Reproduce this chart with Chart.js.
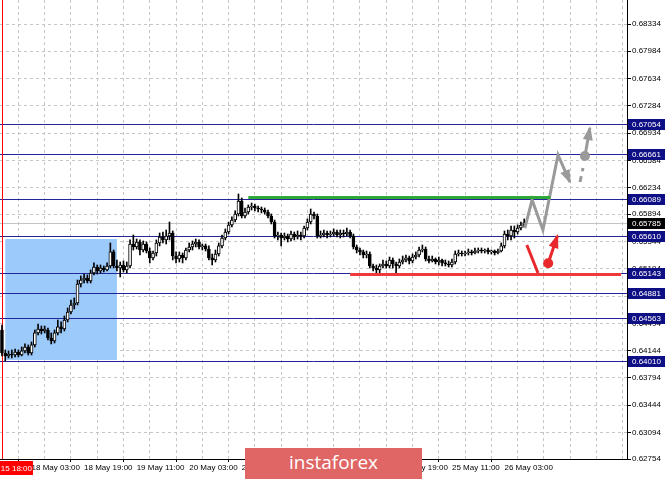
<!DOCTYPE html>
<html>
<head>
<meta charset="utf-8">
<script src="https://cdn.jsdelivr.net/npm/chart.js@4.4.1/dist/chart.umd.min.js"></script>
<style>
  body { margin: 0; background: #fff; }
  #wrap { position: relative; width: 665px; height: 479px; overflow: hidden; }
  #badge {
    position: absolute; left: 245px; top: 448px; width: 177px; height: 31px;
    background: #e06666; color: #fff; font: 19px 'Open Sans', sans-serif;
    text-align: center; line-height: 29px;
  }
</style>
</head>
<body>
<div id="wrap">
  <canvas id="chart" width="665" height="479"></canvas>
  <div id="badge">instaforex</div>
</div>
<script>
// H1 candles, 15 May 18:00 .. 26 May 09:00
const opens = [0.64409,0.64114,0.64076,0.64101,0.64088,0.64127,0.64088,0.64140,0.64191,0.64114,
  0.64217,0.64371,0.64422,0.64396,0.64409,0.64306,0.64268,0.64371,0.64448,0.64422,
  0.64537,0.64640,0.64730,0.64755,0.64999,0.65050,0.65076,0.65038,0.65140,0.65217,
  0.65166,0.65204,0.65179,0.65230,0.65410,0.65230,0.65204,0.65243,0.65179,0.65230,
  0.65512,0.65474,0.65538,0.65435,0.65512,0.65422,0.65333,0.65397,0.65525,0.65602,
  0.65564,0.65615,0.65653,0.65358,0.65320,0.65371,0.65333,0.65435,0.65474,0.65512,
  0.65538,0.65474,0.65487,0.65448,0.65333,0.65307,0.65384,0.65487,0.65589,0.65666,
  0.65756,0.65820,0.65897,0.66064,0.65871,0.65923,0.65987,0.66000,0.65974,0.65961,
  0.65948,0.65923,0.65871,0.65794,0.65615,0.65628,0.65589,0.65615,0.65576,0.65640,
  0.65602,0.65628,0.65615,0.65717,0.65794,0.65897,0.65871,0.65615,0.65628,0.65653,
  0.65628,0.65640,0.65666,0.65628,0.65653,0.65640,0.65666,0.65615,0.65474,0.65435,
  0.65410,0.65371,0.65384,0.65230,0.65204,0.65179,0.65230,0.65256,0.65230,0.65307,
  0.65256,0.65230,0.65281,0.65307,0.65333,0.65294,0.65345,0.65371,0.65435,0.65448,
  0.65320,0.65294,0.65320,0.65281,0.65307,0.65269,0.65256,0.65243,0.65281,0.65384,
  0.65397,0.65384,0.65397,0.65410,0.65397,0.65422,0.65435,0.65422,0.65435,0.65410,
  0.65422,0.65397,0.65422,0.65487,0.65640,0.65615,0.65692,0.65666,0.65717,0.65756];
const highs = [0.64473,0.64153,0.64140,0.64153,0.64165,0.64153,0.64191,0.64230,0.64217,0.64255,
  0.64409,0.64486,0.64460,0.64460,0.64435,0.64371,0.64409,0.64537,0.64512,0.64589,
  0.64691,0.64794,0.64820,0.65050,0.65102,0.65127,0.65115,0.65179,0.65269,0.65243,
  0.65243,0.65230,0.65269,0.65525,0.65435,0.65307,0.65281,0.65294,0.65281,0.65564,
  0.65628,0.65576,0.65564,0.65551,0.65538,0.65461,0.65422,0.65564,0.65653,0.65666,
  0.65692,0.65794,0.65679,0.65410,0.65410,0.65397,0.65461,0.65525,0.65551,0.65576,
  0.65564,0.65512,0.65512,0.65487,0.65384,0.65435,0.65525,0.65628,0.65705,0.65794,
  0.65859,0.65936,0.66154,0.66102,0.65974,0.66013,0.66038,0.66025,0.66000,0.65987,
  0.65974,0.65948,0.65897,0.65820,0.65666,0.65653,0.65653,0.65640,0.65679,0.65666,
  0.65679,0.65666,0.65743,0.65833,0.65961,0.65923,0.65897,0.65679,0.65692,0.65679,
  0.65679,0.65705,0.65692,0.65692,0.65692,0.65717,0.65692,0.65640,0.65499,0.65461,
  0.65435,0.65422,0.65410,0.65256,0.65243,0.65256,0.65307,0.65294,0.65345,0.65333,
  0.65281,0.65320,0.65358,0.65371,0.65358,0.65384,0.65410,0.65474,0.65499,0.65474,
  0.65358,0.65358,0.65333,0.65345,0.65320,0.65307,0.65294,0.65320,0.65422,0.65435,
  0.65422,0.65422,0.65448,0.65435,0.65461,0.65461,0.65461,0.65448,0.65461,0.65435,
  0.65435,0.65448,0.65525,0.65679,0.65692,0.65743,0.65743,0.65756,0.65794,0.65833];
const lows = [0.64076,0.64011,0.64050,0.64050,0.64063,0.64063,0.64076,0.64114,0.64088,0.64088,
  0.64191,0.64345,0.64358,0.64371,0.64281,0.64230,0.64242,0.64345,0.64371,0.64396,
  0.64512,0.64614,0.64679,0.64730,0.64961,0.65012,0.65012,0.65012,0.65115,0.65127,
  0.65140,0.65153,0.65166,0.65204,0.65204,0.65166,0.65089,0.65153,0.65140,0.65204,
  0.65435,0.65448,0.65371,0.65410,0.65397,0.65269,0.65307,0.65358,0.65487,0.65525,
  0.65512,0.65564,0.65307,0.65269,0.65281,0.65269,0.65307,0.65410,0.65435,0.65474,
  0.65448,0.65435,0.65422,0.65307,0.65243,0.65281,0.65358,0.65461,0.65564,0.65640,
  0.65730,0.65794,0.65871,0.65846,0.65846,0.65897,0.65948,0.65936,0.65923,0.65910,
  0.65897,0.65846,0.65769,0.65589,0.65564,0.65487,0.65564,0.65538,0.65551,0.65564,
  0.65576,0.65564,0.65589,0.65692,0.65769,0.65833,0.65589,0.65589,0.65602,0.65589,
  0.65602,0.65615,0.65602,0.65589,0.65602,0.65615,0.65589,0.65448,0.65397,0.65371,
  0.65333,0.65333,0.65204,0.65166,0.65140,0.65140,0.65204,0.65204,0.65204,0.65204,
  0.65140,0.65204,0.65256,0.65281,0.65256,0.65269,0.65320,0.65345,0.65410,0.65294,
  0.65269,0.65281,0.65256,0.65243,0.65230,0.65230,0.65217,0.65217,0.65256,0.65358,
  0.65358,0.65358,0.65371,0.65371,0.65384,0.65397,0.65397,0.65397,0.65384,0.65384,
  0.65371,0.65384,0.65410,0.65461,0.65564,0.65564,0.65589,0.65640,0.65692,0.65730];
const closes = [0.64114,0.64076,0.64101,0.64088,0.64127,0.64088,0.64140,0.64191,0.64114,0.64217,
  0.64371,0.64422,0.64396,0.64422,0.64306,0.64268,0.64371,0.64448,0.64422,0.64537,
  0.64640,0.64730,0.64755,0.64999,0.65050,0.65076,0.65038,0.65140,0.65217,0.65166,
  0.65204,0.65179,0.65230,0.65410,0.65230,0.65204,0.65243,0.65179,0.65230,0.65512,
  0.65474,0.65538,0.65435,0.65512,0.65422,0.65333,0.65397,0.65525,0.65602,0.65564,
  0.65615,0.65653,0.65358,0.65320,0.65371,0.65333,0.65435,0.65474,0.65512,0.65538,
  0.65474,0.65487,0.65448,0.65333,0.65307,0.65384,0.65487,0.65589,0.65666,0.65756,
  0.65820,0.65897,0.66064,0.65871,0.65923,0.65987,0.66000,0.65974,0.65961,0.65948,
  0.65923,0.65871,0.65794,0.65615,0.65628,0.65589,0.65615,0.65576,0.65640,0.65602,
  0.65628,0.65615,0.65717,0.65794,0.65897,0.65871,0.65615,0.65628,0.65653,0.65628,
  0.65640,0.65666,0.65628,0.65653,0.65640,0.65666,0.65615,0.65474,0.65435,0.65410,
  0.65371,0.65384,0.65230,0.65204,0.65179,0.65230,0.65256,0.65230,0.65307,0.65256,
  0.65230,0.65281,0.65307,0.65333,0.65294,0.65345,0.65371,0.65435,0.65448,0.65320,
  0.65294,0.65320,0.65281,0.65307,0.65269,0.65256,0.65243,0.65281,0.65384,0.65397,
  0.65384,0.65397,0.65410,0.65397,0.65422,0.65435,0.65422,0.65435,0.65410,0.65422,
  0.65397,0.65422,0.65487,0.65640,0.65615,0.65692,0.65666,0.65717,0.65756,0.65785];

// axis texts
const xLabels = ['18 May 03:00','18 May 19:00','19 May 11:00','20 May 03:00','20 May 19:00',
  '21 May 11:00','22 May 03:00','22 May 19:00','25 May 11:00','26 May 03:00'];
const firstLabelBar = 9;
const barsPerLabel = 16;
const yTicks = [0.68334,0.67984,0.67634,0.67284,0.66934,0.66584,0.66234,0.65894,0.65544,
  0.65194,0.64844,0.64494,0.64144,0.63794,0.63444,0.63094,0.62754];

// drawn objects
const levels = [0.67054,0.66661,0.66089,0.65610,0.65143,0.64881,0.64563,0.64010];
const lastPrice = 0.65785;
const markerBar = 0;
const markerText = '2020.05.15 18:00';
const zoneBars = [1, 35];
const zonePrices = [0.65576, 0.64024];
const resistBars = [75, 167];
const resistPrice = 0.66110;
const supportBars = [106, 188.5];
const supportPrice = 0.65121;
const bullBars = [159.2, 161.4, 164.7, 169.3, 172.9];
const bullPrices = [0.65717, 0.66077, 0.65692, 0.66654, 0.66308];
const bullDashBars = [176.0, 176.9];
const bullDashPrices = [0.66308, 0.66487];
const bullDot = [177.5, 0.66641];
const bullTarget = [179.0, 0.67000];
const bearBars = [159.8, 163.2];
const bearPrices = [0.65499, 0.65140];
const bearDot = [166.3, 0.65265];
const bearTarget = [169.1, 0.65615];

const GRAY = '#9a9a9a';
const RED = '#e8282a';
const NAVY = '#25259a';
const FONT = "'Liberation Sans', Arial, sans-serif";

Chart.defaults.font.family = FONT;
Chart.defaults.font.size = 8;
Chart.defaults.color = '#000';

const pts = (xs, ys) => xs.map((x, i) => ({x: x, y: ys[i]}));
const noPad = s => { s.paddingLeft = s.paddingRight = s.paddingTop = s.paddingBottom = 0; };

const zonePlugin = {
  id: 'zone',
  beforeDatasetsDraw(chart) {
    const {ctx, chartArea: a, scales: {x, y}} = chart;
    ctx.save();
    ctx.fillStyle = '#9ccbfb';
    const x1 = x.getPixelForValue(zoneBars[0]), x2 = x.getPixelForValue(zoneBars[1]);
    const y1 = y.getPixelForValue(zonePrices[0]), y2 = y.getPixelForValue(zonePrices[1]);
    ctx.fillRect(x1, y1, x2 - x1, y2 - y1);
    // current price line
    ctx.strokeStyle = '#c4c4c4';
    ctx.lineWidth = 1;
    let py = Math.round(y.getPixelForValue(lastPrice)) + 0.5;
    ctx.beginPath(); ctx.moveTo(a.left, py); ctx.lineTo(a.right, py); ctx.stroke();
    // levels
    ctx.strokeStyle = NAVY;
    levels.forEach(v => {
      const ly = Math.round(y.getPixelForValue(v)) + 0.5;
      ctx.beginPath(); ctx.moveTo(a.left, ly); ctx.lineTo(a.right, ly); ctx.stroke();
    });
    // vertical marker
    ctx.strokeStyle = '#ff0000';
    const mx = Math.round(x.getPixelForValue(markerBar)) + 0.5;
    ctx.beginPath(); ctx.moveTo(mx, a.top); ctx.lineTo(mx, a.bottom); ctx.stroke();
    ctx.restore();
  },
  afterDatasetsDraw(chart) {
    const ctx = chart.ctx;
    chart.data.datasets.forEach((ds, i) => {
      if (!ds.arrowHead) return;
      const el = chart.getDatasetMeta(i).data;
      const a = el[el.length - 2], b = el[el.length - 1];
      const ang = Math.atan2(b.y - a.y, b.x - a.x);
      const len = 12, half = 5;
      const bx = b.x - len * Math.cos(ang), by = b.y - len * Math.sin(ang);
      ctx.save();
      ctx.fillStyle = ds.borderColor;
      ctx.beginPath();
      ctx.moveTo(b.x + 2 * Math.cos(ang), b.y + 2 * Math.sin(ang));
      ctx.lineTo(bx + half * Math.sin(ang), by - half * Math.cos(ang));
      ctx.lineTo(bx - half * Math.sin(ang), by + half * Math.cos(ang));
      ctx.closePath();
      ctx.fill();
      ctx.restore();
    });
  },
  afterDraw(chart) {
    const {ctx, chartArea: a, scales: {x, y}} = chart;
    ctx.save();
    ctx.font = '8px ' + FONT;
    ctx.textBaseline = 'middle';
    const box = (v, bg) => {
      const by = Math.round(y.getPixelForValue(v));
      ctx.fillStyle = bg;
      ctx.fillRect(a.right + 1, by - 5, 38, 11);
      ctx.fillStyle = '#fff';
      ctx.textAlign = 'left';
      ctx.fillText(v.toFixed(5), a.right + 5, by + 0.5);
    };
    levels.forEach(v => box(v, '#0f0f85'));
    box(lastPrice, '#000');
    // marker time label
    const mx = x.getPixelForValue(markerBar);
    ctx.fillStyle = '#ff0000';
    ctx.fillRect(0, a.bottom + 2, mx + 31, 14);
    ctx.fillStyle = '#fff';
    ctx.textAlign = 'right';
    ctx.fillText(markerText, mx + 30, a.bottom + 9.5);
    ctx.restore();
  }
};

const isLabelBar = v => (v - firstLabelBar) % barsPerLabel === 0 &&
  (v - firstLabelBar) / barsPerLabel < xLabels.length;

new Chart(document.getElementById('chart'), {
  type: 'bar',
  data: {
    datasets: [
      { type: 'line', data: pts(resistBars, [resistPrice, resistPrice]), borderColor: '#2fa83a',
        borderWidth: 3, pointRadius: 0, order: 0 },
      { type: 'line', data: pts(supportBars, [supportPrice, supportPrice]), borderColor: '#ee3a3a',
        borderWidth: 3, pointRadius: 0, order: 0 },
      { type: 'line', data: pts(bullBars, bullPrices), borderColor: GRAY, borderWidth: 3,
        pointRadius: 0, order: 0, arrowHead: true },
      { type: 'line', data: pts(bullDashBars, bullDashPrices), borderColor: GRAY, borderWidth: 3,
        borderDash: [6, 5], pointRadius: 0, order: 0 },
      { type: 'line', data: pts([bullDot[0], bullTarget[0]], [bullDot[1], bullTarget[1]]),
        borderColor: GRAY, borderWidth: 3, pointRadius: 0, order: 0, arrowHead: true },
      { type: 'line', data: [{x: bullDot[0], y: bullDot[1]}], showLine: false, pointRadius: 5,
        pointBackgroundColor: GRAY, pointBorderWidth: 0, order: 0 },
      { type: 'line', data: pts(bearBars, bearPrices), borderColor: RED, borderWidth: 3,
        pointRadius: 0, order: 0 },
      { type: 'line', data: pts([bearDot[0], bearTarget[0]], [bearDot[1], bearTarget[1]]),
        borderColor: RED, borderWidth: 3, pointRadius: 0, order: 0, arrowHead: true },
      { type: 'line', data: [{x: bearDot[0], y: bearDot[1]}], showLine: false, pointRadius: 5,
        pointBackgroundColor: RED, pointBorderWidth: 0, order: 0 },
      { // bodies
        data: opens.map((o, i) => ({x: i, y: [o, closes[i]]})),
        backgroundColor: opens.map((o, i) => closes[i] >= o ? '#ffffff' : '#000000'),
        borderColor: '#000', borderWidth: 1, borderSkipped: false,
        barThickness: 3, minBarLength: 1, grouped: false, order: 1 },
      { // wicks
        data: lows.map((l, i) => ({x: i, y: [l, highs[i]]})),
        backgroundColor: '#000', barThickness: 1, grouped: false, order: 2 }
    ]
  },
  options: {
    responsive: false,
    animation: false,
    events: [],
    layout: { padding: 0, autoPadding: false },
    plugins: { legend: { display: false }, tooltip: { enabled: false } },
    scales: {
      x: {
        type: 'linear', min: -0.6, max: 190.3, offset: false,
        afterFit: s => { s.height = 20; noPad(s); },
        afterBuildTicks: s => {
          const t = [];
          for (let v = firstLabelBar; v <= 190; v += barsPerLabel / 2) t.push({value: v});
          s.ticks = t;
        },
        ticks: {
          autoSkip: false, maxRotation: 0, align: 'start', padding: 1,
          callback: v => isLabelBar(v) ? xLabels[(v - firstLabelBar) / barsPerLabel] : ''
        },
        grid: {
          color: '#c6c6c6', tickLength: 3,
          tickColor: c => c.tick && isLabelBar(c.tick.value) ? '#000' : 'rgba(0,0,0,0)'
        },
        border: { color: '#000', dash: [3, 3] }
      },
      y: {
        position: 'right', min: 0.62754, max: 0.68642,
        afterFit: s => { s.width = 38; noPad(s); },
        afterBuildTicks: s => { s.ticks = yTicks.map(v => ({value: v})); },
        ticks: { autoSkip: false, padding: 1, callback: v => v.toFixed(5) },
        grid: { color: '#c6c6c6', tickLength: 4, tickColor: '#000' },
        border: { color: '#000', dash: [3, 3] }
      }
    }
  },
  plugins: [zonePlugin]
});
</script>
</body>
</html>
